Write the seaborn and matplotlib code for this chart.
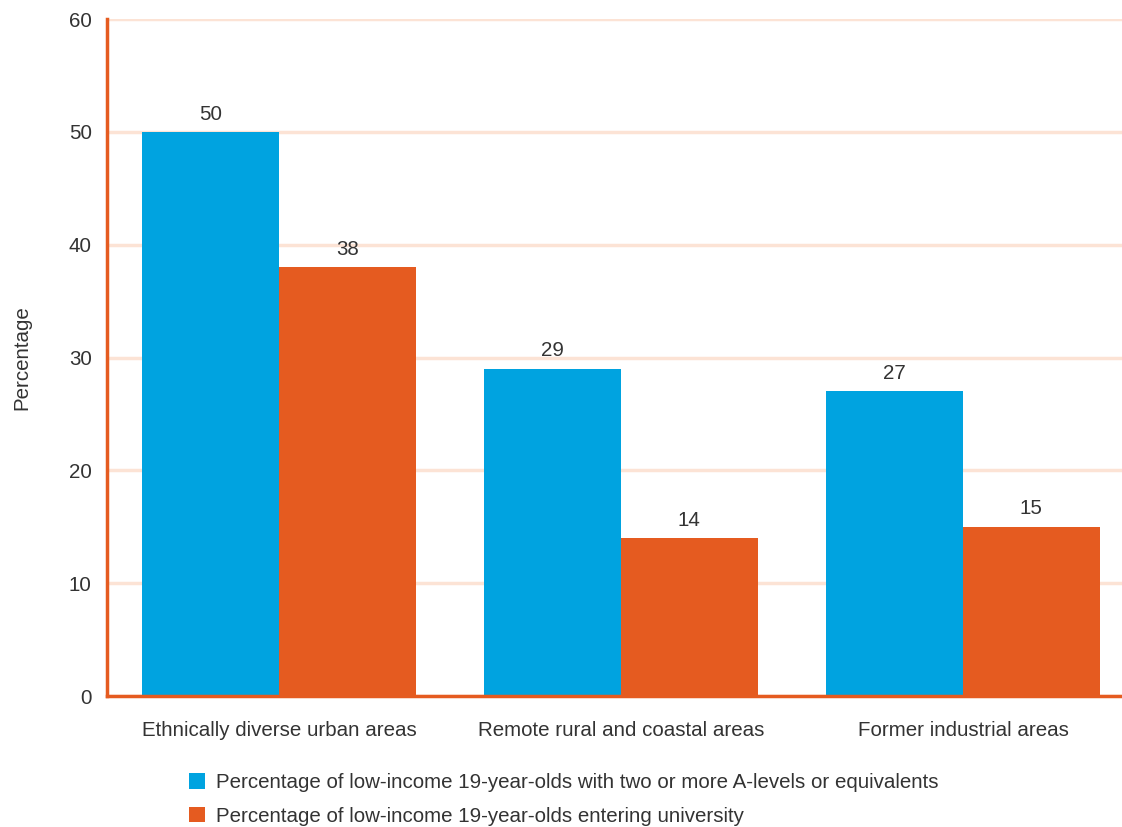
import matplotlib
matplotlib.use("Agg")
import matplotlib.pyplot as plt
from matplotlib.patches import Patch
import pandas as pd
import seaborn as sns

categories = ["Ethnically diverse urban areas", "Remote rural and coastal areas", "Former industrial areas"]
series_names = [
    "Percentage of low-income 19-year-olds with two or more A-levels or equivalents",
    "Percentage of low-income 19-year-olds entering university",
]
alevels = [50, 29, 27]
university = [38, 14, 15]
y_ticks = [0, 10, 20, 30, 40, 50, 60]

BLUE = "#00A3E0"
ORANGE = "#E55B20"
GRID = "#FCE3D5"
TEXT = "#333333"
FS = 14.8

df = pd.DataFrame({
    "area": categories * 2,
    "series": [series_names[0]] * 3 + [series_names[1]] * 3,
    "value": alevels + university,
})

sns.set_theme(style="white")
plt.rcParams["font.family"] = ["Liberation Sans", "DejaVu Sans"]

fig = plt.figure(figsize=(11.22, 8.27), dpi=100)
ax = fig.add_axes([0.0954, 0.1584, 0.9046, 0.8186])

sns.barplot(data=df, x="area", y="value", hue="series", order=categories,
            hue_order=series_names, palette=[BLUE, ORANGE], width=0.8,
            saturation=1, legend=False, ax=ax, zorder=3, linewidth=0)

for bars in ax.containers:
    ax.bar_label(bars, fmt="%g", padding=6, fontsize=FS, color=TEXT)

ax.set_ylim(0, 60)
ax.set_xlim(-0.503, 2.465)
ax.set_yticks(y_ticks)
ax.yaxis.grid(True, color=GRID, linewidth=2.5, zorder=0)
ax.set_axisbelow(True)
ax.tick_params(axis="both", length=0, labelsize=FS, labelcolor=TEXT)
ax.tick_params(axis="y", pad=11)
ax.tick_params(axis="x", pad=18)
ax.set_xlabel("")
ax.set_ylabel("Percentage", fontsize=FS, color=TEXT, labelpad=27)

for side in ["top", "right"]:
    ax.spines[side].set_visible(False)
for side in ["left", "bottom"]:
    ax.spines[side].set_color(ORANGE)
    ax.spines[side].set_linewidth(2.5)
    ax.spines[side].set_zorder(4)

handles = [Patch(facecolor=BLUE, edgecolor="none"), Patch(facecolor=ORANGE, edgecolor="none")]
fig.legend(handles, series_names, loc="lower left", bbox_to_anchor=(0.158, -0.012),
           frameon=False, fontsize=FS, labelcolor=TEXT, handlelength=0.8,
           handleheight=0.8, handletextpad=0.55, labelspacing=0.72,
           borderaxespad=0.15)

fig.savefig("out.png", dpi=100)
